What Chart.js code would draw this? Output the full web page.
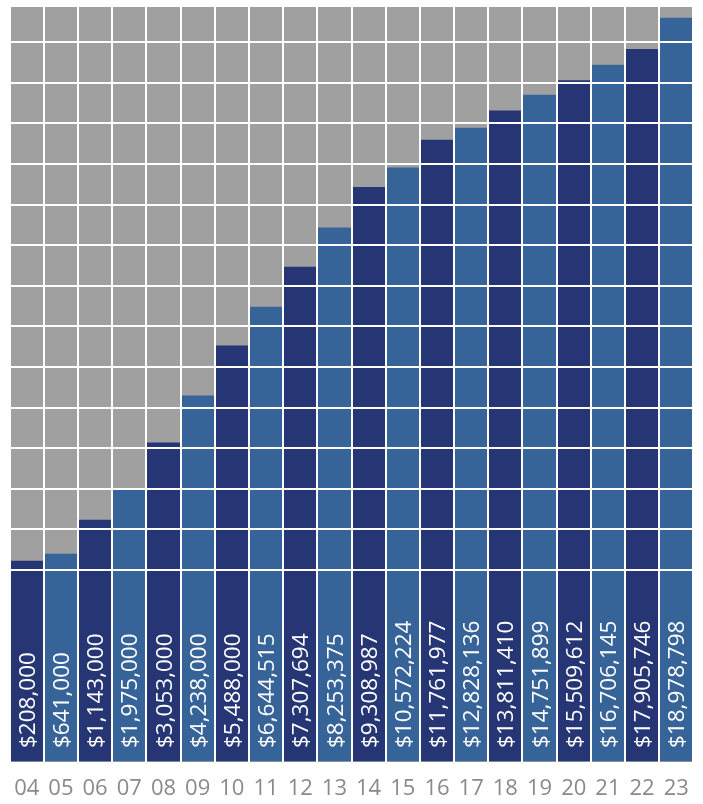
<!DOCTYPE html>
<html>
<head>
<meta charset="utf-8">
<title>Amounts by year</title>
<script src="https://cdn.jsdelivr.net/npm/chart.js@4.4.1/dist/chart.umd.min.js"></script>
<style>
    html, body { margin: 0; padding: 0; background: #fff; }
    #wrap { width: 703px; height: 804px; }
</style>
</head>
<body>
<div id="wrap"><canvas id="chart"></canvas></div>
<script>
// Years (20xx) along the bottom
const years = ['04', '05', '06', '07', '08', '09', '10', '11', '12', '13',
               '14', '15', '16', '17', '18', '19', '20', '21', '22', '23'];

// Dollar amounts written inside the bars
const amounts = [208000, 641000, 1143000, 1975000, 3053000, 4238000, 5488000, 6644515, 7307694, 8253375,
                 9308987, 10572224, 11761977, 12828136, 13811410, 14751899, 15509612, 16706145, 17905746, 18978798];

// Bar heights as drawn (one grid step = $1M)
const barHeights = [0.22, 0.39, 1.23, 2.01, 3.13, 4.29, 5.52, 6.48, 7.46, 8.43,
                    9.43, 9.91, 10.59, 10.89, 11.31, 11.70, 12.06, 12.44, 12.83, 13.60];

// Value axis range: bottom of the label band / top of the grid
const yMin = -4.73;
const yMax = 13.87;

const darkBlue = '#263573';
const lightBlue = '#366398';
const gridGray = '#a0a0a0';
const fontFamily = '"Open Sans", "Noto Sans", sans-serif';

// Grey backdrop behind the bars
const backdrop = {
    id: 'backdrop',
    beforeDraw(chart) {
        const { ctx, chartArea } = chart;
        ctx.save();
        ctx.fillStyle = gridGray;
        ctx.fillRect(chartArea.left, chartArea.top, chartArea.right - chartArea.left, chartArea.bottom - chartArea.top);
        ctx.restore();
    }
};

// Vertical dollar labels at the foot of each bar
const amountLabels = {
    id: 'amountLabels',
    afterDraw(chart) {
        const { ctx, chartArea } = chart;
        const meta = chart.getDatasetMeta(0);
        const size = 22.5;
        ctx.save();
        ctx.fillStyle = '#ffffff';
        ctx.font = size + 'px ' + fontFamily;
        ctx.textAlign = 'left';
        ctx.textBaseline = 'alphabetic';
        meta.data.forEach((bar, i) => {
            const text = '$' + amounts[i].toLocaleString('en-US');
            ctx.save();
            ctx.translate(bar.x + size * 0.36, chartArea.bottom - 14);
            ctx.rotate(-Math.PI / 2);
            ctx.fillText(text, 0, 0);
            ctx.restore();
        });
        ctx.restore();
    }
};

new Chart(document.getElementById('chart'), {
    type: 'bar',
    data: {
        labels: years,
        datasets: [{
            data: barHeights,
            base: yMin,
            backgroundColor: ctx => (ctx.dataIndex % 2 === 0 ? darkBlue : lightBlue),
            borderWidth: 0,
            barPercentage: 1,
            categoryPercentage: 1
        }]
    },
    options: {
        responsive: true,
        maintainAspectRatio: false,
        animation: false,
        layout: { padding: { left: 8, right: 7, top: 7, bottom: 0 } },
        plugins: {
            legend: { display: false },
            tooltip: { enabled: false }
        },
        scales: {
            x: {
                offset: true,
                border: { display: false },
                grid: { color: '#ffffff', lineWidth: 2, drawTicks: false, z: 1, offset: true },
                ticks: {
                    color: '#8a8a8a',
                    padding: 14,
                    maxRotation: 0,
                    autoSkip: false,
                    font: { family: fontFamily, size: 22 }
                },
                afterFit: axis => { axis.height = 42; }
            },
            y: {
                min: yMin,
                max: yMax,
                border: { display: false },
                grid: {
                    lineWidth: 2,
                    drawTicks: false,
                    z: 1,
                    color: ctx => (ctx.tick && ctx.tick.value >= 0 && ctx.tick.value < yMax ? '#ffffff' : 'rgba(0,0,0,0)')
                },
                ticks: { display: false, stepSize: 1 },
                afterFit: axis => { axis.width = 0; }
            }
        }
    },
    plugins: [backdrop, amountLabels]
});
</script>
</body>
</html>
